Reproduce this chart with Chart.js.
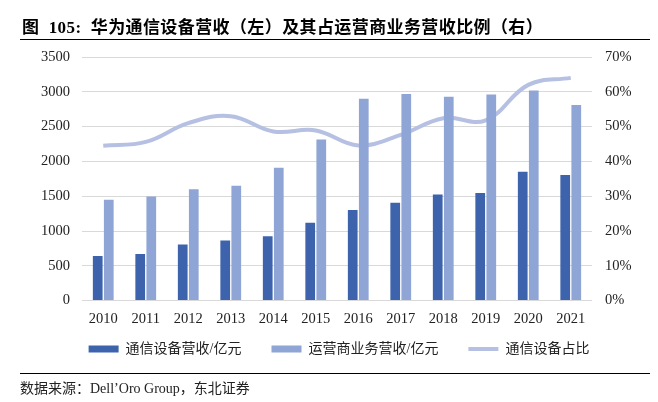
<!DOCTYPE html>
<html>
<head>
<meta charset="utf-8">
<script src="https://cdn.jsdelivr.net/npm/chart.js@4/dist/chart.umd.min.js"></script>
<style>
  body { margin: 0; background: #fff; }
  #wrap { position: relative; width: 658px; height: 402px; overflow: hidden; }
  #chart { position: absolute; left: 0; top: 0; }
  .title {
    position: absolute; left: 22px; top: 13px;
    font: bold 17px "Liberation Serif", "Noto Sans CJK SC", serif;
    letter-spacing: 0.4px;
    color: #000; white-space: pre;
  }
  .rule { position: absolute; left: 20px; width: 630px; height: 0; border-top: 1.5px solid #000; }
  .source {
    position: absolute; left: 20px; top: 377px;
    font: 14px "Liberation Serif", "Noto Sans CJK SC", serif;
    color: #222; white-space: nowrap;
  }
</style>
</head>
<body>
<div id="wrap">
  <canvas id="chart" width="658" height="402"></canvas>
  <div class="title">图  105:  华为通信设备营收（左）及其占运营商业务营收比例（右）</div>
  <div class="rule" style="top:39px"></div>
  <div class="rule" style="top:373px"></div>
  <div class="source">数据来源：Dell’Oro Group，东北证券</div>
</div>
<script>
// years on the x axis
var years = ['2010', '2011', '2012', '2013', '2014', '2015',
    '2016', '2017', '2018', '2019', '2020', '2021'];

// 通信设备营收 / 亿元 (left axis)
var equipRevenue = [640, 670, 805, 865, 925, 1120, 1300, 1405, 1525, 1545, 1850, 1805];

// 运营商业务营收 / 亿元 (left axis)
var carrierRevenue = [1450, 1495, 1600, 1650, 1910, 2315, 2900, 2970, 2930, 2960, 3020, 2810];

// 通信设备占比 % (right axis)
var equipShare = [44.5, 45.6, 51, 53, 48.6, 48.9, 44.6, 47.6, 52.4, 51.8, 62, 64];

var serif = '"Liberation Serif", "Noto Sans CJK SC", serif';

// nudge the legend to where the original sits
var legendShift = {
    id: 'legendShift',
    afterLayout: function (chart) {
        var lg = chart.legend;
        lg.left += 10; lg.right += 10;
        lg.top -= 12; lg.bottom -= 12;
    }
};

var ctx = document.getElementById('chart').getContext('2d');

var combo = new Chart(ctx, {
    type: 'bar',
    data: {
        labels: years,
        datasets: [
            {
                label: '通信设备营收/亿元',
                data: equipRevenue,
                backgroundColor: '#3d63ad',
                pointStyle: 'rect',
                yAxisID: 'y',
                order: 1
            },
            {
                label: '运营商业务营收/亿元',
                data: carrierRevenue,
                backgroundColor: '#8fa5d5',
                pointStyle: 'rect',
                yAxisID: 'y',
                order: 2
            },
            {
                type: 'line',
                label: '通信设备占比',
                data: equipShare,
                borderColor: '#b5c0e3',
                backgroundColor: '#b5c0e3',
                borderWidth: 4,
                pointRadius: 0,
                pointStyle: 'line',
                tension: 0.4,
                yAxisID: 'y1',
                order: 3
            }
        ]
    },
    plugins: [legendShift],
    options: {
        responsive: false,
        animation: false,
        layout: { padding: { top: 57, bottom: 24, left: 0, right: 0 } },
        datasets: {
            bar: { categoryPercentage: 0.52, barPercentage: 0.88 }
        },
        plugins: {
            tooltip: { enabled: false },
            legend: {
                position: 'bottom',
                labels: {
                    usePointStyle: true,
                    pointStyleWidth: 30,
                    boxHeight: 7,
                    padding: 16,
                    color: '#222',
                    font: { family: serif, size: 14 },
                    generateLabels: function (chart) {
                        var items = Chart.defaults.plugins.legend.labels.generateLabels(chart);
                        items.forEach(function (it, i) {
                            if (i < items.length - 1) it.text += '\u3000';
                        });
                        return items;
                    }
                }
            }
        },
        scales: {
            x: {
                grid: { display: false, drawTicks: false },
                border: { display: false },
                ticks: { color: '#222', font: { family: serif, size: 14.5 }, padding: 10 }
            },
            y: {
                position: 'left',
                min: 0,
                max: 3500,
                ticks: {
                    stepSize: 500,
                    color: '#222',
                    font: { family: serif, size: 14.5 },
                    padding: 12,
                    callback: function (v) { return String(v); }
                },
                grid: { color: '#d9d9d9', lineWidth: 1, drawTicks: false },
                border: { display: false },
                afterFit: function (scale) { scale.width = 82; }
            },
            y1: {
                position: 'right',
                min: 0,
                max: 70,
                ticks: {
                    stepSize: 10,
                    color: '#222',
                    font: { family: serif, size: 14.5 },
                    padding: 13,
                    callback: function (v) { return v + '%'; }
                },
                grid: { display: false, drawTicks: false },
                border: { display: false },
                afterFit: function (scale) { scale.width = 66; }
            }
        }
    }
});
</script>
</body>
</html>
